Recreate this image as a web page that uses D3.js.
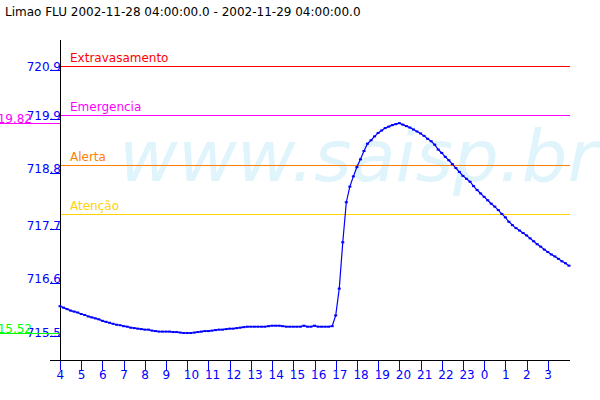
<!DOCTYPE html>
<html>
<head>
<meta charset="utf-8">
<script src="https://cdn.jsdelivr.net/npm/d3@7"></script>
<style>
  html, body { margin: 0; padding: 0; background: #fff; }
  svg { display: block; }
  text { font-family: "DejaVu Sans", sans-serif; }
</style>
</head>
<body>
<svg id="chart" width="600" height="400"></svg>
<script>
// ---- data ----
const title = "Limao FLU 2002-11-28 04:00:00.0 - 2002-11-29 04:00:00.0";
const startTime = "2002-11-28T04:00:00Z";
const endTime = "2002-11-29T04:00:00Z";
const stepMinutes = 10;
// water level readings every 10 min (m)
const levels = [
  716.07, 716.04, 716.01, 715.98, 715.96, 715.94, 715.91, 715.89, 715.86, 715.84,
  715.82, 715.80, 715.77, 715.75, 715.73, 715.71, 715.69, 715.68, 715.66, 715.65,
  715.63, 715.62, 715.61, 715.60, 715.59, 715.59, 715.57, 715.56, 715.55, 715.55,
  715.55, 715.55, 715.54, 715.54, 715.53, 715.52, 715.52, 715.52, 715.53, 715.54,
  715.55, 715.56, 715.56, 715.57, 715.58, 715.59, 715.59, 715.60, 715.61, 715.61,
  715.62, 715.63, 715.64, 715.65, 715.65, 715.65, 715.65, 715.65, 715.65, 715.66,
  715.67, 715.67, 715.67, 715.66, 715.65, 715.65, 715.65, 715.65, 715.65, 715.67,
  715.65, 715.65, 715.67, 715.65, 715.65, 715.65, 715.65, 715.66, 715.88, 716.43,
  717.38, 718.20, 718.52, 718.73, 718.92, 719.08, 719.25, 719.40, 719.47, 719.55,
  719.62, 719.67, 719.72, 719.75, 719.78, 719.80, 719.82, 719.79, 719.76, 719.73,
  719.69, 719.65, 719.61, 719.56, 719.50, 719.45, 719.38, 719.28, 719.21, 719.13,
  719.06, 718.98, 718.90, 718.82, 718.74, 718.68, 718.62, 718.53, 718.45, 718.38,
  718.31, 718.24, 718.17, 718.11, 718.04, 717.96, 717.89, 717.80, 717.73, 717.67,
  717.62, 717.57, 717.52, 717.46, 717.40, 717.34, 717.29, 717.23, 717.18, 717.13,
  717.09, 717.04, 716.99, 716.95, 716.90
];
const thresholdNames = ["Extravasamento", "Emergencia", "Alerta", "Atenção"];
const thresholdValues = [721.0, 719.98, 718.96, 717.96];
const thresholdColors = ["#ff0000", "#ff00ff", "#ff8000", "#ffd200"];
const yTickValues = [715.45, 716.55, 717.65, 718.8, 719.9, 720.9];
const yTickLabels = ["715.5", "716.6", "717.7", "718.8", "719.9", "720.9"];
const maxValue = 719.82, minValue = 715.52;
const watermark = "www.saisp.br";

// ---- scales ----
const svg = d3.select("#chart");
const t0 = new Date(startTime), t1 = new Date(endTime);
const times = levels.map((d, i) => new Date(t0.getTime() + i * stepMinutes * 60000));
const x = d3.scaleUtc().domain([t0, t1]).range([60, 569]);
const y = d3.scaleLinear().domain([715, 721]).range([358.4, 65.6]);

// watermark
svg.append("text")
  .attr("x", 119).attr("y", 181)
  .attr("font-size", 72).attr("font-style", "italic")
  .attr("fill", "#e0f4fc")
  .text(watermark);

// title
svg.append("text").attr("x", 5).attr("y", 16)
  .attr("font-size", 12).attr("fill", "#000").text(title);

// threshold lines
thresholdValues.forEach((v, i) => {
  svg.append("line")
    .attr("x1", 60).attr("x2", 570)
    .attr("y1", Math.round(y(v)) + 0.5).attr("y2", Math.round(y(v)) + 0.5)
    .attr("stroke", thresholdColors[i]).attr("stroke-width", 1);
  svg.append("text")
    .attr("x", 70).attr("y", y(v) - 4)
    .attr("font-size", 12).attr("fill", thresholdColors[i])
    .text(thresholdNames[i]);
});

// x axis
const hours = d3.utcHour.range(t0, t1);
const xAxis = svg.append("g").attr("transform", "translate(0,360)")
  .call(d3.axisBottom(x).tickValues(hours).tickFormat(d3.utcFormat("%-H")).tickSize(10));
xAxis.select(".domain").remove();
xAxis.selectAll(".tick line").attr("stroke", "#0000ff").attr("shape-rendering", "crispEdges");
xAxis.selectAll(".tick text")
  .attr("fill", "#0000ff").attr("font-size", 12)
  .attr("font-family", "DejaVu Sans, sans-serif")
  .attr("text-anchor", "start").attr("x", -4).attr("y", 19).attr("dy", 0);

// y axis
const yAxis = svg.append("g").attr("transform", "translate(60,0)")
  .call(d3.axisLeft(y).tickValues(yTickValues)
    .tickFormat((d, i) => yTickLabels[i]).tickSize(10));
yAxis.select(".domain").remove();
yAxis.selectAll(".tick line").attr("stroke", "#0000ff").attr("shape-rendering", "crispEdges");
yAxis.selectAll(".tick text")
  .attr("fill", "#0000ff").attr("font-size", 12)
  .attr("font-family", "DejaVu Sans, sans-serif")
  .attr("text-anchor", "end").attr("x", 1).attr("dy", 0);

// axis lines
svg.append("line").attr("x1", 60.5).attr("x2", 60.5).attr("y1", 40).attr("y2", 360)
  .attr("stroke", "#000");
svg.append("line").attr("x1", 50).attr("x2", 570).attr("y1", 360.5).attr("y2", 360.5)
  .attr("stroke", "#000");

// max / min markers
[[maxValue, "#ff00ff"], [minValue, "#00ff00"]].forEach(([v, c]) => {
  svg.append("line").attr("x1", 0).attr("x2", 60)
    .attr("y1", Math.round(y(v)) + 0.5).attr("y2", Math.round(y(v)) + 0.5)
    .attr("stroke", c);
  svg.append("text").attr("x", 32).attr("y", y(v))
    .attr("text-anchor", "end").attr("font-size", 12).attr("fill", c)
    .text(v.toFixed(2));
});

// series line
const line = d3.line().x((d, i) => x(times[i])).y(d => y(d));
svg.append("path").datum(levels)
  .attr("d", line).attr("fill", "none")
  .attr("stroke", "#0000ff").attr("stroke-width", 1.2);
svg.selectAll("rect.pt").data(levels).join("rect")
  .attr("class", "pt")
  .attr("x", (d, i) => x(times[i]) - 1.5).attr("y", d => y(d) - 1)
  .attr("width", 3).attr("height", 2).attr("fill", "#0000ff");
</script>
</body>
</html>
